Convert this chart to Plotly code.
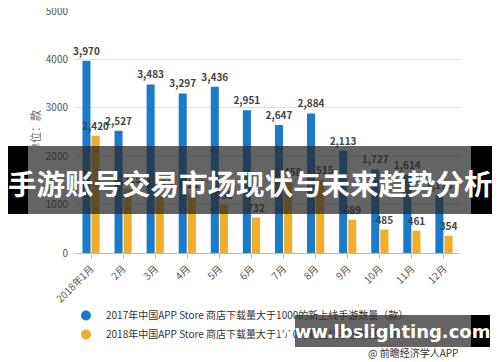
import plotly.graph_objects as go

categories = ["2018年1月", "2月", "3月", "4月", "5月", "6月", "7月", "8月", "9月", "10月", "11月", "12月"]
values_2017 = [3970, 2527, 3483, 3297, 3436, 2951, 2647, 2884, 2113, 1727, 1614, 1195]
values_2018 = [2420, 1325, 1215, 1218, 988, 732, 1458, 1515, 689, 485, 461, 354]
series_names = [
    "2017年中国APP Store 商店下载量大于1000的新上线手游数量（款）",
    "2018年中国APP Store 商店下载量大于1000的新上线手游数量（款）",
]
y_ticks = [0, 1000, 2000, 3000, 4000, 5000]

FONT = "Noto Sans CJK SC, Microsoft YaHei, sans-serif"
BLUE = "#1a7cc9"
ORANGE = "#f1ad29"

OFF = 8  # page body margin offset
# target plot area in window pixels: x 75..460, y 11..253
L, R, T, B = 75 - OFF, 460 - OFF, 11 - OFF, 253 - OFF
W, H = R - L, B - T
def px(x):
    return (x - OFF - L) / W
def py(y):
    return (B - (y - OFF)) / H

fig = go.Figure()
for name, vals, col in [(series_names[0], values_2017, BLUE), (series_names[1], values_2018, ORANGE)]:
    fig.add_trace(go.Bar(
        x=categories, y=vals, name=name, marker=dict(color=col, line=dict(width=0)),
        texttemplate="<b>%{y:,}</b>", textposition="outside", cliponaxis=False,
        constraintext="none",
        textfont=dict(size=10, color="#444", family=FONT), showlegend=False,
    ))
# legend entries with circle markers
for name, col in [(series_names[0], BLUE), (series_names[1], ORANGE)]:
    fig.add_trace(go.Scatter(x=[None], y=[None], mode="markers", name=name,
                             marker=dict(color=col, size=10, symbol="circle")))

fig.update_layout(
    width=500, height=362,
    margin=dict(l=L, r=500 - R, t=T, b=362 - B, autoexpand=False),
    paper_bgcolor="white", plot_bgcolor="white",
    barmode="group", bargap=0.43, bargroupgap=0.12,
    font=dict(family=FONT, size=11, color="#555"),
    showlegend=True,
    uniformtext=dict(minsize=10, mode="show"),
    legend=dict(x=px(66), y=py(301), xanchor="left", yanchor="top", orientation="v",
                font=dict(size=10, color="#333", family=FONT), itemwidth=30,
                tracegroupgap=0, bgcolor="rgba(0,0,0,0)"),
    xaxis=dict(tickangle=-45, showgrid=False, showline=True, linecolor="#bbb",
               ticks="outside", ticklen=5, tickcolor="#bbb", automargin=False,
               tickfont=dict(size=10, color="#555")),
    yaxis=dict(range=[0, 5000], tickvals=y_ticks, showgrid=True, gridcolor="#e2e2e2",
               zeroline=False, showline=False, tickfont=dict(size=10, color="#555"),
               ticklabelstandoff=6, automargin=False, ticklabeloverflow="allow"),
)

fig.add_annotation(text="单位：款", textangle=-90, xref="paper", yref="paper",
                   x=px(35), y=py(132), xanchor="center", yanchor="middle", showarrow=False,
                   font=dict(size=11, color="#666"))

fig.add_annotation(text="@ 前瞻经济学人APP", xref="paper", yref="paper",
                   x=px(460), y=py(352), xanchor="right", yanchor="middle", showarrow=False,
                   font=dict(size=10, color="#333"))

# Overlay banner
y0b, y1b = py(146), py(214)
fig.add_shape(type="rect", xref="paper", yref="paper", x0=px(0), x1=px(500),
              y0=y0b, y1=y1b, fillcolor="rgba(40,40,40,0.72)", line=dict(width=0), layer="above")
fig.add_shape(type="rect", xref="paper", yref="paper", x0=px(0), x1=px(28),
              y0=y0b, y1=y1b, fillcolor="black", line=dict(width=0), layer="above")
fig.add_shape(type="rect", xref="paper", yref="paper", x0=px(471), x1=px(500),
              y0=y0b, y1=y1b, fillcolor="black", line=dict(width=0), layer="above")
fig.add_annotation(text="<b>手游账号交易市场现状与未来趋势分析</b>", xref="paper", yref="paper",
                   x=px(250), y=py(182), showarrow=False, xanchor="center", yanchor="middle",
                   font=dict(size=28.5, color="white", family=FONT))

# Bottom right site banner
y0s, y1s = py(315), py(347)
fig.add_shape(type="rect", xref="paper", yref="paper", x0=px(295), x1=px(490),
              y0=y0s, y1=y1s, fillcolor="rgba(40,40,40,0.72)", line=dict(width=0), layer="above")
fig.add_shape(type="rect", xref="paper", yref="paper", x0=px(471), x1=px(490),
              y0=y0s, y1=y1s, fillcolor="black", line=dict(width=0), layer="above")
fig.add_annotation(text="<b>www.lbslighting.com</b>", xref="paper", yref="paper",
                   x=px(384), y=py(331), showarrow=False, xanchor="center", yanchor="middle",
                   font=dict(size=18, color="white", family="DejaVu Sans, sans-serif"))

fig.write_html("out.html")
